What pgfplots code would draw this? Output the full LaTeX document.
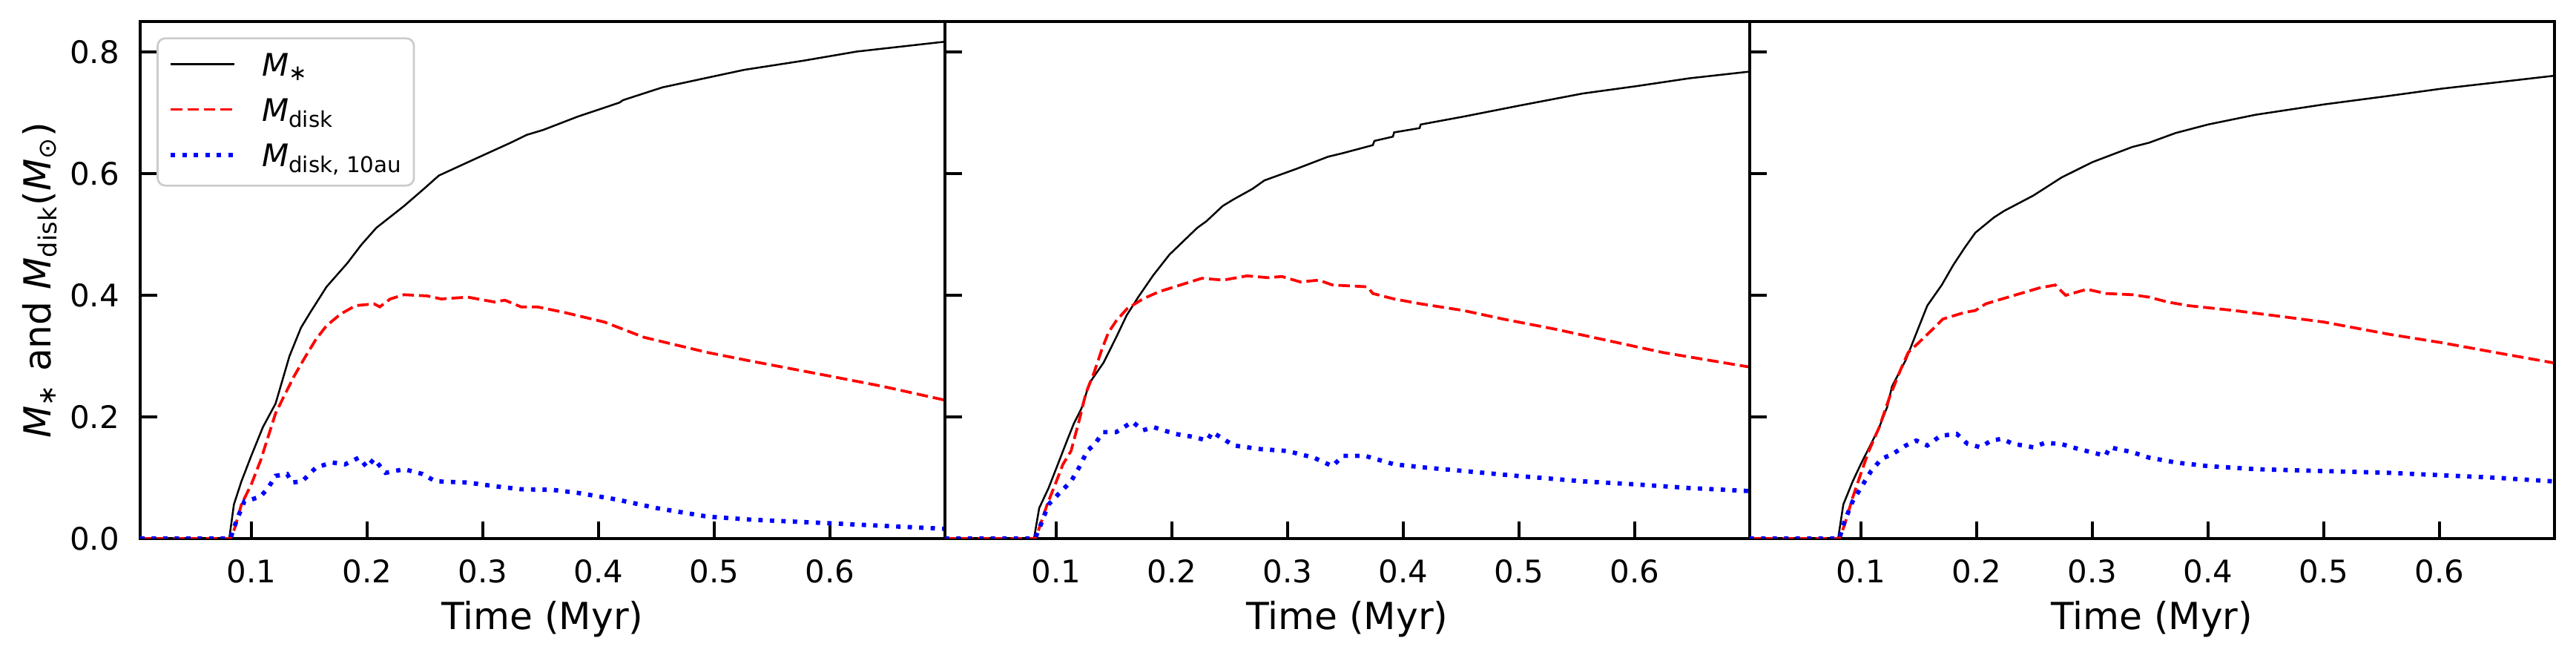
\documentclass[border=0pt]{standalone}
\usepackage{fontspec}
\setmainfont{DejaVu Sans}
\usepackage{pgfplots}
\pgfplotsset{compat=1.18}
\usepackage{pgfplotstable}

% ---------- panel 1 ----------
\pgfplotstableread{
t v
0.004 0
0.081 0
0.085 0.056
0.0915 0.094
0.100 0.136
0.110 0.183
0.121 0.222
0.127 0.261
0.133 0.300
0.140 0.333
0.143 0.347
0.151 0.372
0.165 0.414
0.183 0.453
0.195 0.483
0.208 0.511
0.232 0.547
0.249 0.575
0.262 0.597
0.294 0.625
0.324 0.651
0.338 0.664
0.352 0.672
0.382 0.694
0.418 0.717
0.421 0.721
0.455 0.742
0.494 0.758
0.526 0.771
0.577 0.786
0.623 0.801
0.698 0.817
}\starA
\pgfplotstableread{
t v
0.004 0
0.082 0
0.0857 0.017
0.0915 0.056
0.100 0.089
0.108 0.128
0.1145 0.167
0.121 0.206
0.128 0.233
0.137 0.267
0.147 0.300
0.156 0.328
0.165 0.350
0.177 0.369
0.190 0.383
0.206 0.386
0.211 0.381
0.220 0.394
0.232 0.401
0.252 0.399
0.264 0.394
0.287 0.397
0.310 0.389
0.319 0.392
0.333 0.381
0.347 0.381
0.370 0.372
0.405 0.356
0.439 0.331
0.494 0.306
0.531 0.292
0.600 0.267
0.646 0.250
0.698 0.228
}\diskA
\pgfplotstableread{
t v
0.004 0
0.082 0
0.087 0.028
0.094 0.061
0.100 0.064
0.108 0.069
0.1145 0.083
0.121 0.103
0.131 0.106
0.135 0.092
0.144 0.094
0.156 0.117
0.170 0.125
0.181 0.122
0.193 0.133
0.200 0.117
0.206 0.131
0.216 0.108
0.232 0.114
0.248 0.106
0.259 0.094
0.287 0.092
0.310 0.086
0.333 0.081
0.360 0.080
0.382 0.075
0.416 0.064
0.450 0.050
0.494 0.036
0.531 0.031
0.600 0.025
0.698 0.016
}\tenA
% ---------- panel 2 ----------
\pgfplotstableread{
t v
0.004 0
0.081 0
0.0855 0.050
0.0936 0.083
0.1016 0.122
0.1085 0.156
0.1154 0.189
0.122 0.214
0.129 0.256
0.141 0.289
0.152 0.331
0.161 0.367
0.171 0.397
0.184 0.433
0.198 0.467
0.210 0.489
0.222 0.511
0.230 0.522
0.244 0.547
0.2535 0.558
0.2696 0.575
0.280 0.589
0.3076 0.608
0.335 0.628
0.348 0.634
0.3736 0.647
0.375 0.654
0.391 0.661
0.392 0.668
0.414 0.675
0.415 0.681
0.452 0.694
0.500 0.712
0.555 0.732
0.601 0.744
0.647 0.757
0.699 0.768
}\starB
\pgfplotstableread{
t v
0.004 0
0.082 0
0.0855 0.017
0.0924 0.056
0.0993 0.089
0.106 0.122
0.113 0.144
0.120 0.194
0.1258 0.239
0.1327 0.272
0.1396 0.311
0.1453 0.339
0.152 0.358
0.1614 0.378
0.175 0.394
0.189 0.406
0.2075 0.417
0.226 0.428
0.2443 0.425
0.265 0.432
0.2834 0.429
0.295 0.431
0.311 0.422
0.327 0.425
0.3387 0.417
0.369 0.414
0.3736 0.403
0.392 0.394
0.415 0.386
0.452 0.375
0.486 0.361
0.532 0.344
0.578 0.325
0.624 0.306
0.699 0.282
}\diskB
\pgfplotstableread{
t v
0.004 0
0.082 0
0.0867 0.022
0.0936 0.056
0.1016 0.072
0.113 0.094
0.120 0.117
0.127 0.144
0.1338 0.156
0.1407 0.175
0.152 0.175
0.166 0.192
0.175 0.178
0.1845 0.183
0.203 0.172
0.219 0.167
0.2305 0.161
0.235 0.175
0.2535 0.153
0.2765 0.147
0.2995 0.144
0.3226 0.133
0.3387 0.119
0.348 0.136
0.3667 0.136
0.392 0.122
0.417 0.117
0.452 0.111
0.498 0.103
0.555 0.094
0.601 0.089
0.647 0.083
0.699 0.078
}\tenB
% ---------- panel 3 ----------
\pgfplotstableread{
t v
0.004 0
0.0805 0
0.085 0.056
0.0931 0.094
0.100 0.122
0.109 0.156
0.116 0.183
0.123 0.217
0.127 0.250
0.139 0.294
0.1506 0.350
0.1575 0.383
0.170 0.417
0.180 0.450
0.1897 0.478
0.199 0.503
0.215 0.528
0.224 0.539
0.249 0.564
0.2736 0.594
0.300 0.619
0.3345 0.644
0.349 0.651
0.372 0.667
0.400 0.681
0.441 0.697
0.500 0.714
0.556 0.728
0.602 0.740
0.648 0.750
0.698 0.761
}\starC
\pgfplotstableread{
t v
0.004 0
0.0816 0
0.086 0.022
0.093 0.067
0.100 0.106
0.107 0.144
0.116 0.183
0.125 0.233
0.1345 0.278
0.141 0.306
0.150 0.322
0.162 0.344
0.171 0.361
0.190 0.372
0.199 0.375
0.208 0.386
0.222 0.394
0.238 0.403
0.254 0.412
0.268 0.417
0.277 0.400
0.2954 0.410
0.3115 0.403
0.3345 0.401
0.349 0.397
0.365 0.389
0.383 0.383
0.4225 0.375
0.464 0.365
0.500 0.356
0.556 0.336
0.602 0.322
0.648 0.306
0.698 0.289
}\diskC
\pgfplotstableread{
t v
0.004 0
0.0816 0
0.086 0.028
0.093 0.061
0.100 0.083
0.109 0.111
0.118 0.131
0.1276 0.139
0.139 0.153
0.148 0.161
0.1575 0.153
0.169 0.169
0.183 0.172
0.192 0.156
0.2034 0.150
0.2126 0.161
0.222 0.164
0.231 0.156
0.249 0.150
0.2586 0.157
0.272 0.156
0.2885 0.147
0.3115 0.136
0.315 0.150
0.3345 0.142
0.349 0.133
0.372 0.125
0.400 0.119
0.441 0.114
0.4985 0.111
0.556 0.108
0.602 0.104
0.648 0.100
0.698 0.094
}\tenC

\pgfplotsset{
  panel/.style={
    scale only axis, width=259pt, height=166.3pt,
    xmin=0.004, xmax=0.699, ymin=0, ymax=0.85,
    xtick={0.1,0.2,0.3,0.4,0.5,0.6},
    ytick={0,0.2,0.4,0.6,0.8},
    tick align=inside, tick pos=left,
    major tick length=5.5pt,
    every tick/.style={line width=0.9pt, black},
    axis line style={line width=0.9pt},
    /pgf/number format/assume math mode=true,
    scaled ticks=false,
    tick label style={font=\fontsize{10}{12}\selectfont, inner sep=0pt},
    xticklabel style={/pgf/number format/.cd, fixed, fixed zerofill, precision=1},
    yticklabel style={/pgf/number format/.cd, fixed, fixed zerofill, precision=1},
    xticklabel shift=6.7pt,
    yticklabel shift=6.5pt,
    xlabel={Time (Myr)},
    xlabel style={font=\fontsize{12}{14}\selectfont, inner sep=0pt,
      at={(axis description cs:0.5,0)}, anchor=north, yshift=-20pt},
    clip=true,
  },
  star/.style={black, line width=0.6pt},
  disk/.style={red, line width=0.9pt, dash pattern=on 3.7pt off 1.6pt},
  ten/.style={blue, line width=1.4pt, dash pattern=on 1.4pt off 2.3pt},
}

\begin{document}
\begin{tikzpicture}
\begin{axis}[panel, name=p1,
    ylabel={\textit{M}\textsubscript{∗} and \textit{M}\textsubscript{disk}(\textit{M}\textsubscript{⊙})},
    ylabel style={font=\fontsize{12}{14}\selectfont, inner sep=0pt,
      at={(axis description cs:0,0.5)}, anchor=base, yshift=28.8pt},
    legend cell align=left,
    legend image code/.code={\draw[#1] (0pt,3.8pt) -- (20.4pt,3.8pt);},
    legend style={at={(axis description cs:0,1)}, anchor=north west,
      xshift=5.3pt, yshift=-5pt,
      draw=black!20, line width=0.65pt, rounded corners=2.5pt,
      fill=white, fill opacity=0.8, text opacity=1,
      inner xsep=3.6pt, inner ysep=3.7pt,
      font=\fontsize{10}{12}\selectfont,
      row sep=3.8pt,
      /tikz/column sep=0pt,
      /tikz/every odd column/.style={column sep=8.2pt},
      nodes={inner sep=0pt, text height=8.4pt, text depth=2.4pt, anchor=base west},
    },
  ]
  \addplot[star] table[x=t, y=v] {\starA};
  \addlegendentry{\textit{M}\textsubscript{∗}}
  \addplot[disk] table[x=t, y=v] {\diskA};
  \addlegendentry{\textit{M}\textsubscript{disk}}
  \addplot[ten] table[x=t, y=v] {\tenA};
  \addlegendentry{\textit{M}\textsubscript{disk, 10au}}
\end{axis}
\begin{axis}[panel, name=p2, at={([xshift=2.4pt]p1.south east)}, anchor=south west,
    yticklabels={}]
  \addplot[star] table[x=t, y=v] {\starB};
  \addplot[disk] table[x=t, y=v] {\diskB};
  \addplot[ten] table[x=t, y=v] {\tenB};
\end{axis}
\begin{axis}[panel, name=p3, at={([xshift=2.4pt]p2.south east)}, anchor=south west,
    yticklabels={}]
  \addplot[star] table[x=t, y=v] {\starC};
  \addplot[disk] table[x=t, y=v] {\diskC};
  \addplot[ten] table[x=t, y=v] {\tenC};
\end{axis}
\pgfresetboundingbox
\path[use as bounding box] ([shift={(-45.1pt,-38.4pt)}]p1.south west) rectangle ([shift={(7pt,7pt)}]p3.north east);
\end{tikzpicture}
\end{document}
